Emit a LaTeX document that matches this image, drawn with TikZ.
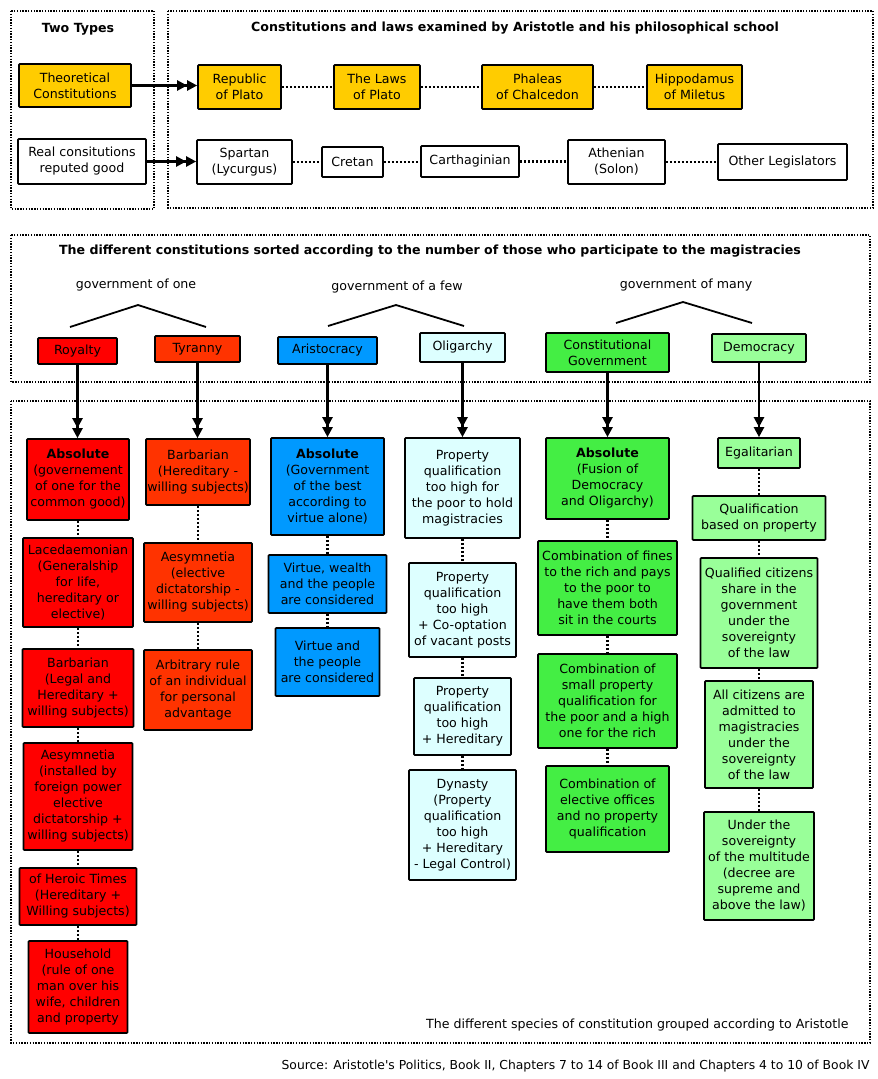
\documentclass[tikz,border=0pt]{standalone}
\usepackage{fontspec}
\setmainfont{DejaVu Sans}
\usetikzlibrary{arrows.meta}
\definecolor{gold}{HTML}{FFCC00}
\definecolor{royred}{HTML}{FF0000}
\definecolor{tyrred}{HTML}{FF3300}
\definecolor{arisblue}{HTML}{0099FF}
\definecolor{oligcyan}{HTML}{DDFFFF}
\definecolor{constgreen}{HTML}{44EE44}
\definecolor{demogreen}{HTML}{99FF99}
\tikzset{
  bx/.style={draw=black, line width=1.7pt, rounded corners=0.8pt, align=center, inner sep=1pt,
    font=\fontsize{12.6}{16}\selectfont},
  frame/.style={draw=black, line width=1.4pt, dash pattern=on 1.4pt off 1.4pt},
  dotc/.style={draw=black, line width=2.2pt, dash pattern=on 2pt off 2pt},
  dbl/.style={draw=black, line width=2.3pt, -{Triangle[length=10pt,width=10pt]Triangle[length=10pt,width=10pt]}},
  ttl/.style={font=\fontsize{12.6}{16}\selectfont\bfseries},
  lbl/.style={font=\fontsize{12.6}{16}\selectfont},
  wedge/.style={draw=black, line width=1.8pt},
}
\begin{document}
\begin{tikzpicture}[x=1pt,y=-1pt]
\useasboundingbox (0,0) rectangle (878,1079);
% frames
\draw[frame] (11,11) rectangle (154,209);
\draw[frame] (168,11) rectangle (873,208);
\draw[frame] (11,235) rectangle (870,382);
\draw[frame] (11,401) rectangle (870,1043);
% titles
\node[ttl] (t1) at (78,29) {Two Types};
\node[ttl] (t2) at (515,28) {Constitutions and laws examined by Aristotle and his philosophical school};
\node[ttl] (t3) at (430,251) {The different constitutions sorted according to the number of those who participate to the magistracies};
% top section
\node[bx, fill=gold, minimum width=112pt, minimum height=43pt] (theo) at (75,85.5) {Theoretical\\Constitutions};
\node[bx, fill=white, minimum width=128pt, minimum height=45pt] (real) at (82,161.5) {Real consitutions\\reputed good};
\node[bx, fill=gold, minimum width=83pt, minimum height=44pt] (rep) at (239.5,87) {Republic\\of Plato};
\node[bx, fill=gold, minimum width=86pt, minimum height=44pt] (laws) at (377,87) {The Laws\\of Plato};
\node[bx, fill=gold, minimum width=111pt, minimum height=44pt] (phal) at (537.5,87) {Phaleas\\of Chalcedon};
\node[bx, fill=gold, minimum width=95pt, minimum height=44pt] (hipp) at (694.5,87) {Hippodamus\\of Miletus};
\node[bx, fill=white, minimum width=95pt, minimum height=44pt] (spar) at (244.5,162) {Spartan\\(Lycurgus)};
\node[bx, fill=white, minimum width=61pt, minimum height=30pt] (cret) at (352.5,162) {Cretan};
\node[bx, fill=white, minimum width=98pt, minimum height=31pt] (carth) at (470,161.5) {Carthaginian};
\node[bx, fill=white, minimum width=97pt, minimum height=44pt] (athen) at (616.5,162) {Athenian\\(Solon)};
\node[bx, fill=white, minimum width=129pt, minimum height=36pt] (other) at (782.5,162) {Other Legislators};
\draw[dbl] (theo.east) -- (theo.east -| rep.west);
\draw[dbl] (real.east) -- (real.east -| spar.west);
\draw[dotc] (rep.east) -- (laws.west);
\draw[dotc] (laws.east) -- (phal.west);
\draw[dotc] (phal.east) -- (hipp.west);
\draw[dotc] (spar.east) -- (spar.east -| cret.west);
\draw[dotc] (cret.east) -- (cret.east -| carth.west);
\draw[dotc] (carth.east) -- (carth.east -| athen.west);
\draw[dotc] (athen.east) -- (athen.east -| other.west);
% middle section
\node[lbl] (gone) at (136,285) {government of one};
\node[lbl] (gfew) at (397,287) {government of a few};
\node[lbl] (gmany) at (686,285) {government of many};
\draw[wedge] (70,327) -- (138,305) -- (206,327);
\draw[wedge] (328,326) -- (396,305) -- (464,326);
\draw[wedge] (616,323) -- (683,302) -- (752,323);
\node[bx, fill=royred, minimum width=79pt, minimum height=26pt] (royal) at (77.5,351) {Royalty};
\node[bx, fill=tyrred, minimum width=85pt, minimum height=26pt] (tyr) at (197.5,349) {Tyranny};
\node[bx, fill=arisblue, minimum width=99pt, minimum height=27pt] (aris) at (327.5,350.5) {Aristocracy};
\node[bx, fill=oligcyan, minimum width=85pt, minimum height=29pt] (olig) at (462.5,347.5) {Oligarchy};
\node[bx, fill=constgreen, minimum width=123pt, minimum height=39pt] (const) at (607.5,352.5) {Constitutional\\Government};
\node[bx, fill=demogreen, minimum width=94pt, minimum height=28pt] (demo) at (759,348) {Democracy};
% column 1: royalty
\node[bx, fill=royred, minimum width=102pt, minimum height=81pt] (r1) at (78,479.5) {\textbf{Absolute}\\(governement\\of one for the\\common good)};
\node[bx, fill=royred, minimum width=110pt, minimum height=89pt] (r2) at (78,582.5) {Lacedaemonian\\(Generalship\\for life,\\hereditary or\\elective)};
\node[bx, fill=royred, minimum width=111pt, minimum height=78pt] (r3) at (78,688) {Barbarian\\(Legal and\\Hereditary +\\willing subjects)};
\node[bx, fill=royred, minimum width=109pt, minimum height=107pt] (r4) at (78,796.5) {Aesymnetia\\(installed by\\foreign power\\elective\\dictatorship +\\willing subjects)};
\node[bx, fill=royred, minimum width=117pt, minimum height=57pt] (r5) at (78,896.5) {of Heroic Times\\(Hereditary +\\Willing subjects)};
\node[bx, fill=royred, minimum width=99pt, minimum height=92pt] (r6) at (78,987) {Household\\(rule of one\\man over his\\wife, children\\and property};
% column 2: tyranny
\node[bx, fill=tyrred, minimum width=104pt, minimum height=66pt] (ty1) at (198,472) {Barbarian\\(Hereditary -\\willing subjects)};
\node[bx, fill=tyrred, minimum width=108pt, minimum height=79pt] (ty2) at (198,582.5) {Aesymnetia\\(elective\\dictatorship -\\willing subjects)};
\node[bx, fill=tyrred, minimum width=108pt, minimum height=80pt] (ty3) at (198,690) {Arbitrary rule\\of an individual\\for personal\\advantage};
% column 3: aristocracy
\node[bx, fill=arisblue, minimum width=113pt, minimum height=97pt] (a1) at (327.5,486.5) {\textbf{Absolute}\\(Government\\of the best\\according to\\virtue alone)};
\node[bx, fill=arisblue, minimum width=118pt, minimum height=58pt] (a2) at (327.5,584) {Virtue, wealth\\and the people\\are considered};
\node[bx, fill=arisblue, minimum width=104pt, minimum height=68pt] (a3) at (327.5,662) {Virtue and\\the people\\are considered};
% column 4: oligarchy
\node[bx, fill=oligcyan, minimum width=115pt, minimum height=100pt] (o1) at (462.5,488) {Property\\qualification\\too high for\\the poor to hold\\magistracies};
\node[bx, fill=oligcyan, minimum width=107pt, minimum height=94pt] (o2) at (462.5,610) {Property\\qualification\\too high\\+ Co-optation\\of vacant posts};
\node[bx, fill=oligcyan, minimum width=97pt, minimum height=77pt] (o3) at (462.5,716.5) {Property\\qualification\\too high\\+ Hereditary};
\node[bx, fill=oligcyan, minimum width=107pt, minimum height=110pt] (o4) at (462.5,825) {Dynasty\\(Property\\qualification\\too high\\+ Hereditary\\- Legal Control)};
% column 5: constitutional
\node[bx, fill=constgreen, minimum width=123pt, minimum height=81pt] (c1) at (607.5,478.5) {\textbf{Absolute}\\(Fusion of\\Democracy\\and Oligarchy)};
\node[bx, fill=constgreen, minimum width=139pt, minimum height=94pt] (c2) at (607.5,588) {Combination of fines\\to the rich and pays\\to the poor to\\have them both\\sit in the courts};
\node[bx, fill=constgreen, minimum width=139pt, minimum height=94pt] (c3) at (607.5,701) {Combination of\\small property\\qualification for\\the poor and a high\\one for the rich};
\node[bx, fill=constgreen, minimum width=123pt, minimum height=86pt] (c4) at (607.5,809) {Combination of\\elective offices\\and no property\\qualification};
% column 6: democracy
\node[bx, fill=demogreen, minimum width=82pt, minimum height=30pt] (d1) at (759,453) {Egalitarian};
\node[bx, fill=demogreen, minimum width=133pt, minimum height=44pt] (d2) at (759,518) {Qualification\\based on property};
\node[bx, fill=demogreen, minimum width=117pt, minimum height=110pt] (d3) at (759,613) {Qualified citizens\\share in the\\government\\under the\\sovereignty\\of the law};
\node[bx, fill=demogreen, minimum width=108pt, minimum height=107pt] (d4) at (759,734.5) {All citizens are\\admitted to\\magistracies\\under the\\sovereignty\\of the law};
\node[bx, fill=demogreen, minimum width=110pt, minimum height=108pt] (d5) at (759,866) {Under the\\sovereignty\\of the multitude\\(decree are\\supreme and\\above the law)};
% arrows from categories
\draw[dbl] (royal.south) -- (royal.south |- r1.north);
\draw[dbl] (tyr.south) -- (tyr.south |- ty1.north);
\draw[dbl] (aris.south) -- (aris.south |- a1.north);
\draw[dbl] (olig.south) -- (olig.south |- o1.north);
\draw[dbl] (const.south) -- (const.south |- c1.north);
\draw[dbl] (demo.south) -- (demo.south |- d1.north);
% dotted links
\foreach \a/\b in {r1/r2,r2/r3,r3/r4,r4/r5,r5/r6,ty1/ty2,ty2/ty3,a1/a2,a2/a3,o1/o2,o2/o3,o3/o4,c1/c2,c2/c3,c3/c4,d1/d2,d2/d3,d3/d4,d4/d5}
  \draw[dotc] (\a.south) -- (\a.south |- \b.north);
% captions
\node[lbl, anchor=east] (cap) at (852,1025) {The different species of constitution grouped according to Aristotle};
\node[lbl, anchor=east, font=\fontsize{12.35}{16}\selectfont] (src) at (873,1066) {Source: Aristotle\textquotesingle s Politics, Book II, Chapters 7 to 14 of Book III and Chapters 4 to 10 of Book IV};
\end{tikzpicture}
\end{document}
